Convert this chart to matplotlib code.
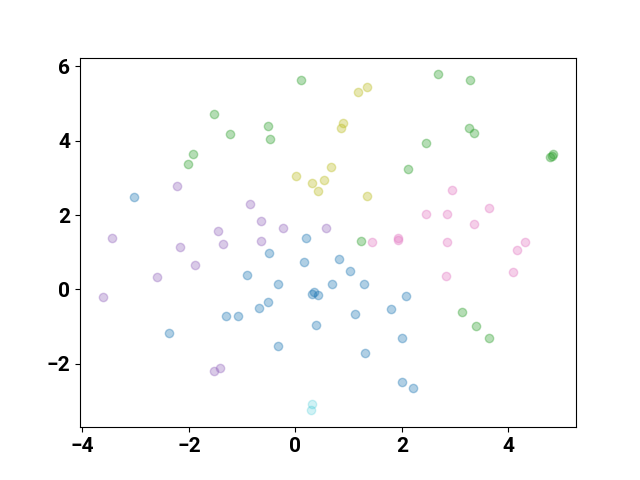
import matplotlib
matplotlib.use("Agg")
import matplotlib.pyplot as plt

plt.rcParams['font.family'] = ['Roboto', 'DejaVu Sans']
plt.rcParams['font.weight'] = 'bold'

blue_x = [-3.035, 0.20, -0.50, 0.163, -0.907, -0.325, 0.68, 0.32, 0.357, 0.426, -0.507, -0.68,
          -1.31, -1.07, 0.395, -2.38, -0.319, 0.81, 1.03, 1.29, 2.085, 1.80, 1.127, 2.0, 1.315, 2.0, 2.216]
blue_y = [2.48, 1.37, 0.97, 0.726, 0.384, 0.16, 0.14, -0.126, -0.06, -0.16, -0.34, -0.49,
          -0.71, -0.71, -0.96, -1.175, -1.53, 0.806, 0.50, 0.134, -0.18, -0.53, -0.656, -1.30, -1.70, -2.50, -2.645]

purple_x = [-2.22, -0.85, -0.644, -1.452, -0.225, 0.576, -3.44, -0.644, -2.17, -1.358, -1.89, -2.60, -3.62, -1.52, -1.42]
purple_y = [2.78, 2.30, 1.84, 1.58, 1.66, 1.66, 1.39, 1.31, 1.13, 1.21, 0.645, 0.34, -0.20, -2.20, -2.12]

green_x = [0.107, -1.52, -1.22, -0.513, -0.481, -1.92, -2.015, 2.68, 3.27, 3.26, 3.36, 2.45, 4.78, 4.845, 4.82, 2.12,
           1.23, 3.13, 3.39, 3.63]
green_y = [5.63, 4.71, 4.17, 4.39, 4.05, 3.64, 3.38, 5.78, 5.63, 4.34, 4.20, 3.93, 3.57, 3.63, 3.60, 3.24,
           1.29, -0.61, -0.97, -1.31]

olive_x = [0.019, 0.32, 0.426, 0.545, 0.665, 1.17, 1.35, 0.90, 0.864, 1.35]
olive_y = [3.04, 2.86, 2.64, 2.94, 3.29, 5.32, 5.45, 4.48, 4.34, 2.52]

pink_x = [2.94, 3.64, 2.45, 2.84, 3.35, 1.43, 1.92, 1.935, 2.855, 4.31, 4.17, 4.09, 2.836]
pink_y = [2.66, 2.18, 2.02, 2.02, 1.755, 1.27, 1.39, 1.33, 1.28, 1.27, 1.065, 0.465, 0.366]

cyan_x = [0.307, 0.30]
cyan_y = [-3.09, -3.25]

fig, ax = plt.subplots(figsize=(6.4, 4.8), dpi=100)
for xs, ys, c, a in [(blue_x, blue_y, 'tab:blue', 0.35), (purple_x, purple_y, 'tab:purple', 0.35),
                     (green_x, green_y, 'tab:green', 0.35), (olive_x, olive_y, 'tab:olive', 0.35),
                     (pink_x, pink_y, 'tab:pink', 0.35), (cyan_x, cyan_y, 'tab:cyan', 0.2)]:
    ax.scatter(xs, ys, color=c, alpha=a)

ax.tick_params(labelsize=15)
for lab in ax.get_xticklabels() + ax.get_yticklabels():
    lab.set_fontweight('bold')

fig.savefig('out.png', dpi=100)
